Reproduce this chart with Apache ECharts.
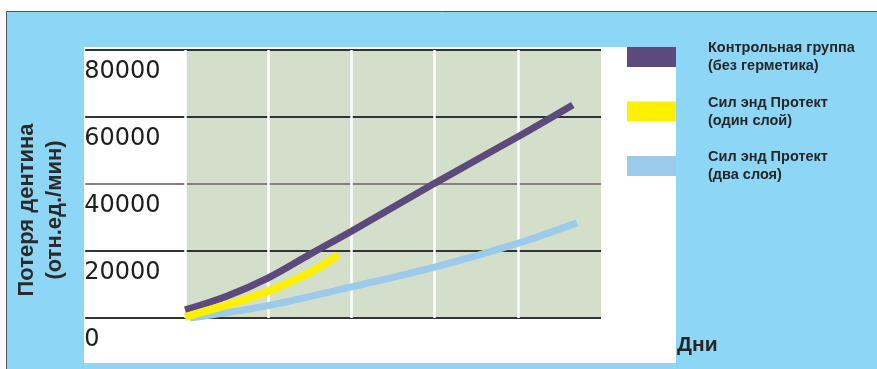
<!DOCTYPE html>
<html>
<head>
<meta charset="utf-8">
<script src="https://cdn.jsdelivr.net/npm/echarts@6/dist/echarts.min.js"></script>
<style>
html,body{margin:0;padding:0;background:#fff;}
#c{width:877px;height:369px;}
</style>
</head>
<body>
<div id="c"></div>
<script>
// ---- data ----
const seriesNames = [
  'Контрольная группа\n(без герметика)',
  'Сил энд Протект\n(один слой)',
  'Сил энд Протект\n(два слоя)'
];
const yTicks = [0, 20000, 40000, 60000, 80000];
const dayColumns = [0, 1, 2, 3, 4, 5];
const controlX = [0, 0.5, 1, 1.5, 2, 3, 4, 4.66];
const controlY = [2400, 6500, 12000, 19000, 25900, 40200, 54100, 63600];
const oneLayerX = [0, 0.5, 1, 1.5, 1.84];
const oneLayerY = [300, 3900, 8000, 13600, 18800];
const twoLayerX = [0.06, 1, 2, 3, 4, 4.71];
const twoLayerY = [0, 3700, 9300, 15200, 22300, 28400];
const yAxisTitle = 'Потеря дентина\n(отн.ед./мин)';
const xAxisTitle = 'Дни';

const zip = (xs, ys) => xs.map((x, i) => [x, ys[i]]);

const chart = echarts.init(document.getElementById('c'), null, {renderer: 'canvas'});
const boldFont = 'Liberation Sans, Arial, sans-serif';

chart.setOption({
  animation: false,
  backgroundColor: '#ffffff',
  graphic: [
    {type: 'rect', z: 0, shape: {x: 6.5, y: 11.5, width: 880, height: 370},
     style: {fill: '#8ed6f6', stroke: '#555555', lineWidth: 1}},
    {type: 'rect', z: 0, shape: {x: 84, y: 47, width: 592, height: 316},
     style: {fill: '#ffffff'}}
  ],
  grid: {left: 85.2, top: 50, width: 515.84, height: 268, containLabel: false},
  legend: {
    orient: 'vertical', left: 627, top: 30, padding: 0,
    itemWidth: 49, itemHeight: 20, itemGap: 0.5,
    icon: 'rect', z: 10,
    selectedMode: false,
    data: seriesNames,
    textStyle: {
      fontFamily: boldFont, fontWeight: 'bold', fontSize: 14.5, color: '#262626',
      lineHeight: 18, padding: [18, 0, 0, 27]
    }
  },
  xAxis: {
    type: 'value', min: -1.2, max: 5, offset: 27, position: 'bottom',
    axisLine: {show: false, onZero: false}, axisTick: {show: false}, axisLabel: {show: false},
    splitLine: {show: false},
    name: xAxisTitle, nameLocation: 'end', nameGap: 76,
    nameTextStyle: {fontFamily: boldFont, fontWeight: 'bold', fontSize: 21, color: '#262626',
      align: 'left', verticalAlign: 'middle'}
  },
  yAxis: {
    type: 'value', min: 0, max: 80000, interval: 20000, z: 3,
    axisLine: {show: false}, axisTick: {show: false},
    axisLabel: {
      inside: true, margin: -1, align: 'left', verticalAlign: 'top',
      fontFamily: 'DejaVu Sans', fontSize: 24, color: '#1e1e1e', padding: [10, 0, 0, 0],
      formatter: v => yTicks.includes(v) ? String(v) : ''
    },
    splitLine: {show: true, lineStyle: {color: ['#333333', '#333333', '#8a8080', '#333333', '#333333'], width: 2}},
    name: yAxisTitle, nameLocation: 'middle', nameGap: 16, nameRotate: 90,
    nameTextStyle: {fontFamily: boldFont, fontWeight: 'bold', fontSize: 22, color: '#2a2a2a',
      lineHeight: 28, padding: [0, 52, 0, 0]}
  },
  series: [
    {
      name: seriesNames[0], type: 'line', z: 6, smooth: 0.35, showSymbol: false, symbol: 'none',
      data: zip(controlX, controlY),
      color: '#5c4a7c',
      lineStyle: {width: 7, color: '#5c4a7c', cap: 'butt'},
      markArea: {
        silent: true, z: 2,
        itemStyle: {color: '#d3dfcb'},
        data: [[{coord: [dayColumns[0], yTicks[yTicks.length - 1]]}, {coord: [dayColumns[dayColumns.length - 1], yTicks[0]]}]]
      },
      markLine: {
        silent: true, z: 4, symbol: 'none', label: {show: false},
        lineStyle: {color: '#ffffff', width: 2.5, type: 'solid'},
        data: dayColumns.slice(0, -1).map(d => ({xAxis: d}))
      }
    },
    {
      name: seriesNames[1], type: 'line', z: 8, smooth: 0.35, showSymbol: false, symbol: 'none',
      data: zip(oneLayerX, oneLayerY),
      color: '#fff000',
      lineStyle: {width: 8, color: '#fff000', cap: 'butt'}
    },
    {
      name: seriesNames[2], type: 'line', z: 5, smooth: 0.35, showSymbol: false, symbol: 'none',
      data: zip(twoLayerX, twoLayerY),
      color: '#9ccaea',
      lineStyle: {width: 7, color: '#9ccaea', cap: 'butt'}
    }
  ]
});
</script>
</body>
</html>
